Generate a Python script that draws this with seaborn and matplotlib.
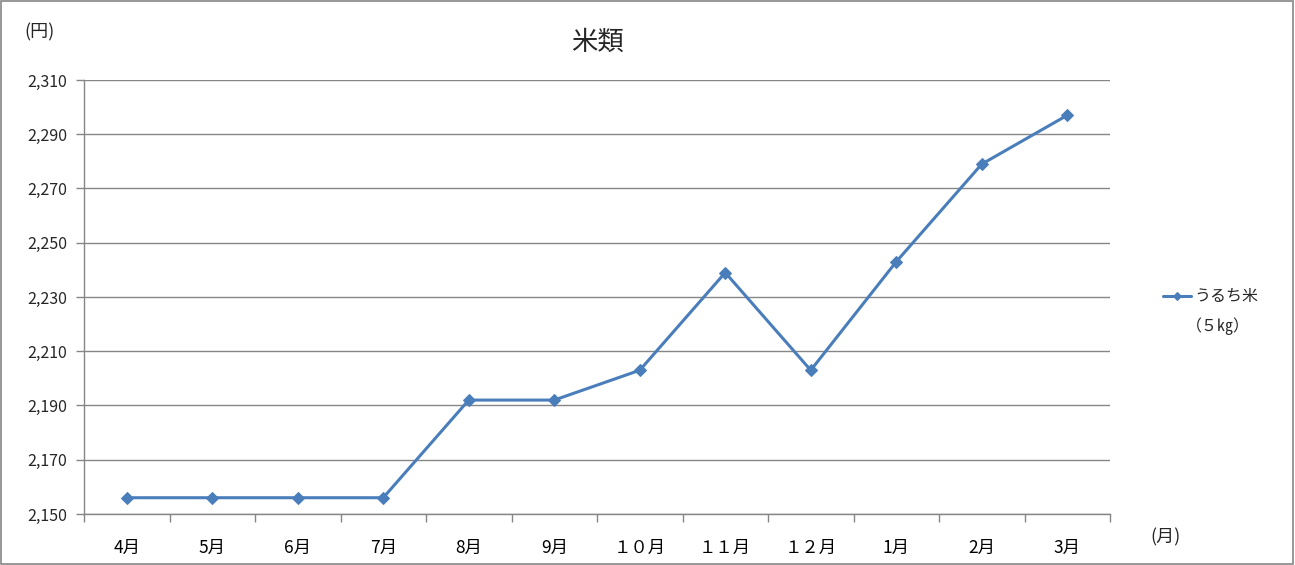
import numpy as np
import pandas as pd
import matplotlib
matplotlib.use("Agg")
import matplotlib.pyplot as plt
from matplotlib.ticker import FixedLocator, FuncFormatter
import seaborn as sns

# ------------------------------------------------------------
# 米類: うるち米 (5kg) monthly price
# ------------------------------------------------------------
MONTHS = ["4月", "5月", "6月", "7月", "8月", "9月",
          "１０月", "１１月", "１２月", "1月", "2月", "3月"]
PRICES = [2156, 2156, 2156, 2156, 2192, 2192,
          2203, 2239, 2203, 2243, 2279, 2297]
Y_TICKS = [2150, 2170, 2190, 2210, 2230, 2250, 2270, 2290, 2310]

SERIES_NAME = "うるち米"
SERIES_UNIT = "（５㎏）"
LINE_COLOR = "#4A7EBB"
GRID_COLOR = "#868686"

sns.set_theme(style="white")
plt.rcParams["font.family"] = ["Noto Sans CJK JP", "DejaVu Sans"]

df = pd.DataFrame({"month": MONTHS, "price": PRICES, "series": SERIES_NAME})

fig = plt.figure(figsize=(12.95, 5.65), dpi=100)
ax = fig.add_axes([84 / 1295, 1 - 514 / 565, (1110 - 84) / 1295, (514 - 80) / 565])

sns.lineplot(
    data=df,
    x="month",
    y="price",
    hue="series",
    palette=[LINE_COLOR],
    marker="D",
    markersize=6.5,
    markeredgecolor=LINE_COLOR,
    linewidth=2.2,
    sort=False,
    ax=ax,
)

ax.set_xlim(-0.5, len(MONTHS) - 0.5)
ax.set_ylim(Y_TICKS[0], Y_TICKS[-1])
ax.set_yticks(Y_TICKS)
ax.yaxis.set_major_formatter(FuncFormatter(lambda v, p: f"{int(v):,}"))
ax.yaxis.grid(True, color=GRID_COLOR, linewidth=1)
ax.xaxis.grid(False)

ax.set_xticks(range(len(MONTHS)))
ax.set_xticklabels(MONTHS, fontsize=12.5)
ax.xaxis.set_minor_locator(FixedLocator(np.arange(-0.5, len(MONTHS), 1.0)))
ax.tick_params(axis="x", which="major", length=0, pad=18, colors="black")
ax.tick_params(axis="x", which="minor", length=6, width=1, color=GRID_COLOR, direction="out", bottom=True)
ax.tick_params(axis="y", which="major", length=6, width=1, color=GRID_COLOR, direction="out",
               left=True, labelsize=11.5, pad=6)

for side in ["top", "right"]:
    ax.spines[side].set_visible(False)
for side in ["left", "bottom"]:
    ax.spines[side].set_color(GRID_COLOR)
    ax.spines[side].set_linewidth(1)

ax.set_xlabel("")
ax.set_ylabel("")

leg = ax.legend(
    loc="center left",
    bbox_to_anchor=(1.045, 1 - (297 - 80) / 434),
    frameon=False,
    fontsize=11.5,
    handlelength=1.8,
    handletextpad=0.2,
    markerscale=0.7,
    borderaxespad=0,
)
fig.text(1218 / 1295, 1 - 326 / 565, SERIES_UNIT, fontsize=11.5, ha="center", va="center")

fig.text(597 / 1295, 1 - 42 / 565, "米類", fontsize=19, ha="center", va="center")
fig.text(40 / 1295, 1 - 32 / 565, "(円)", fontsize=13, ha="center", va="center")
fig.text(1165 / 1295, 1 - 537 / 565, "(月)", fontsize=13, ha="center", va="center")

border = plt.Rectangle((0.0005, 0.001), 0.998, 0.997, transform=fig.transFigure,
                       fill=False, edgecolor=GRID_COLOR, linewidth=1.2)
fig.patches.append(border)

fig.savefig("out.png", dpi=100)
